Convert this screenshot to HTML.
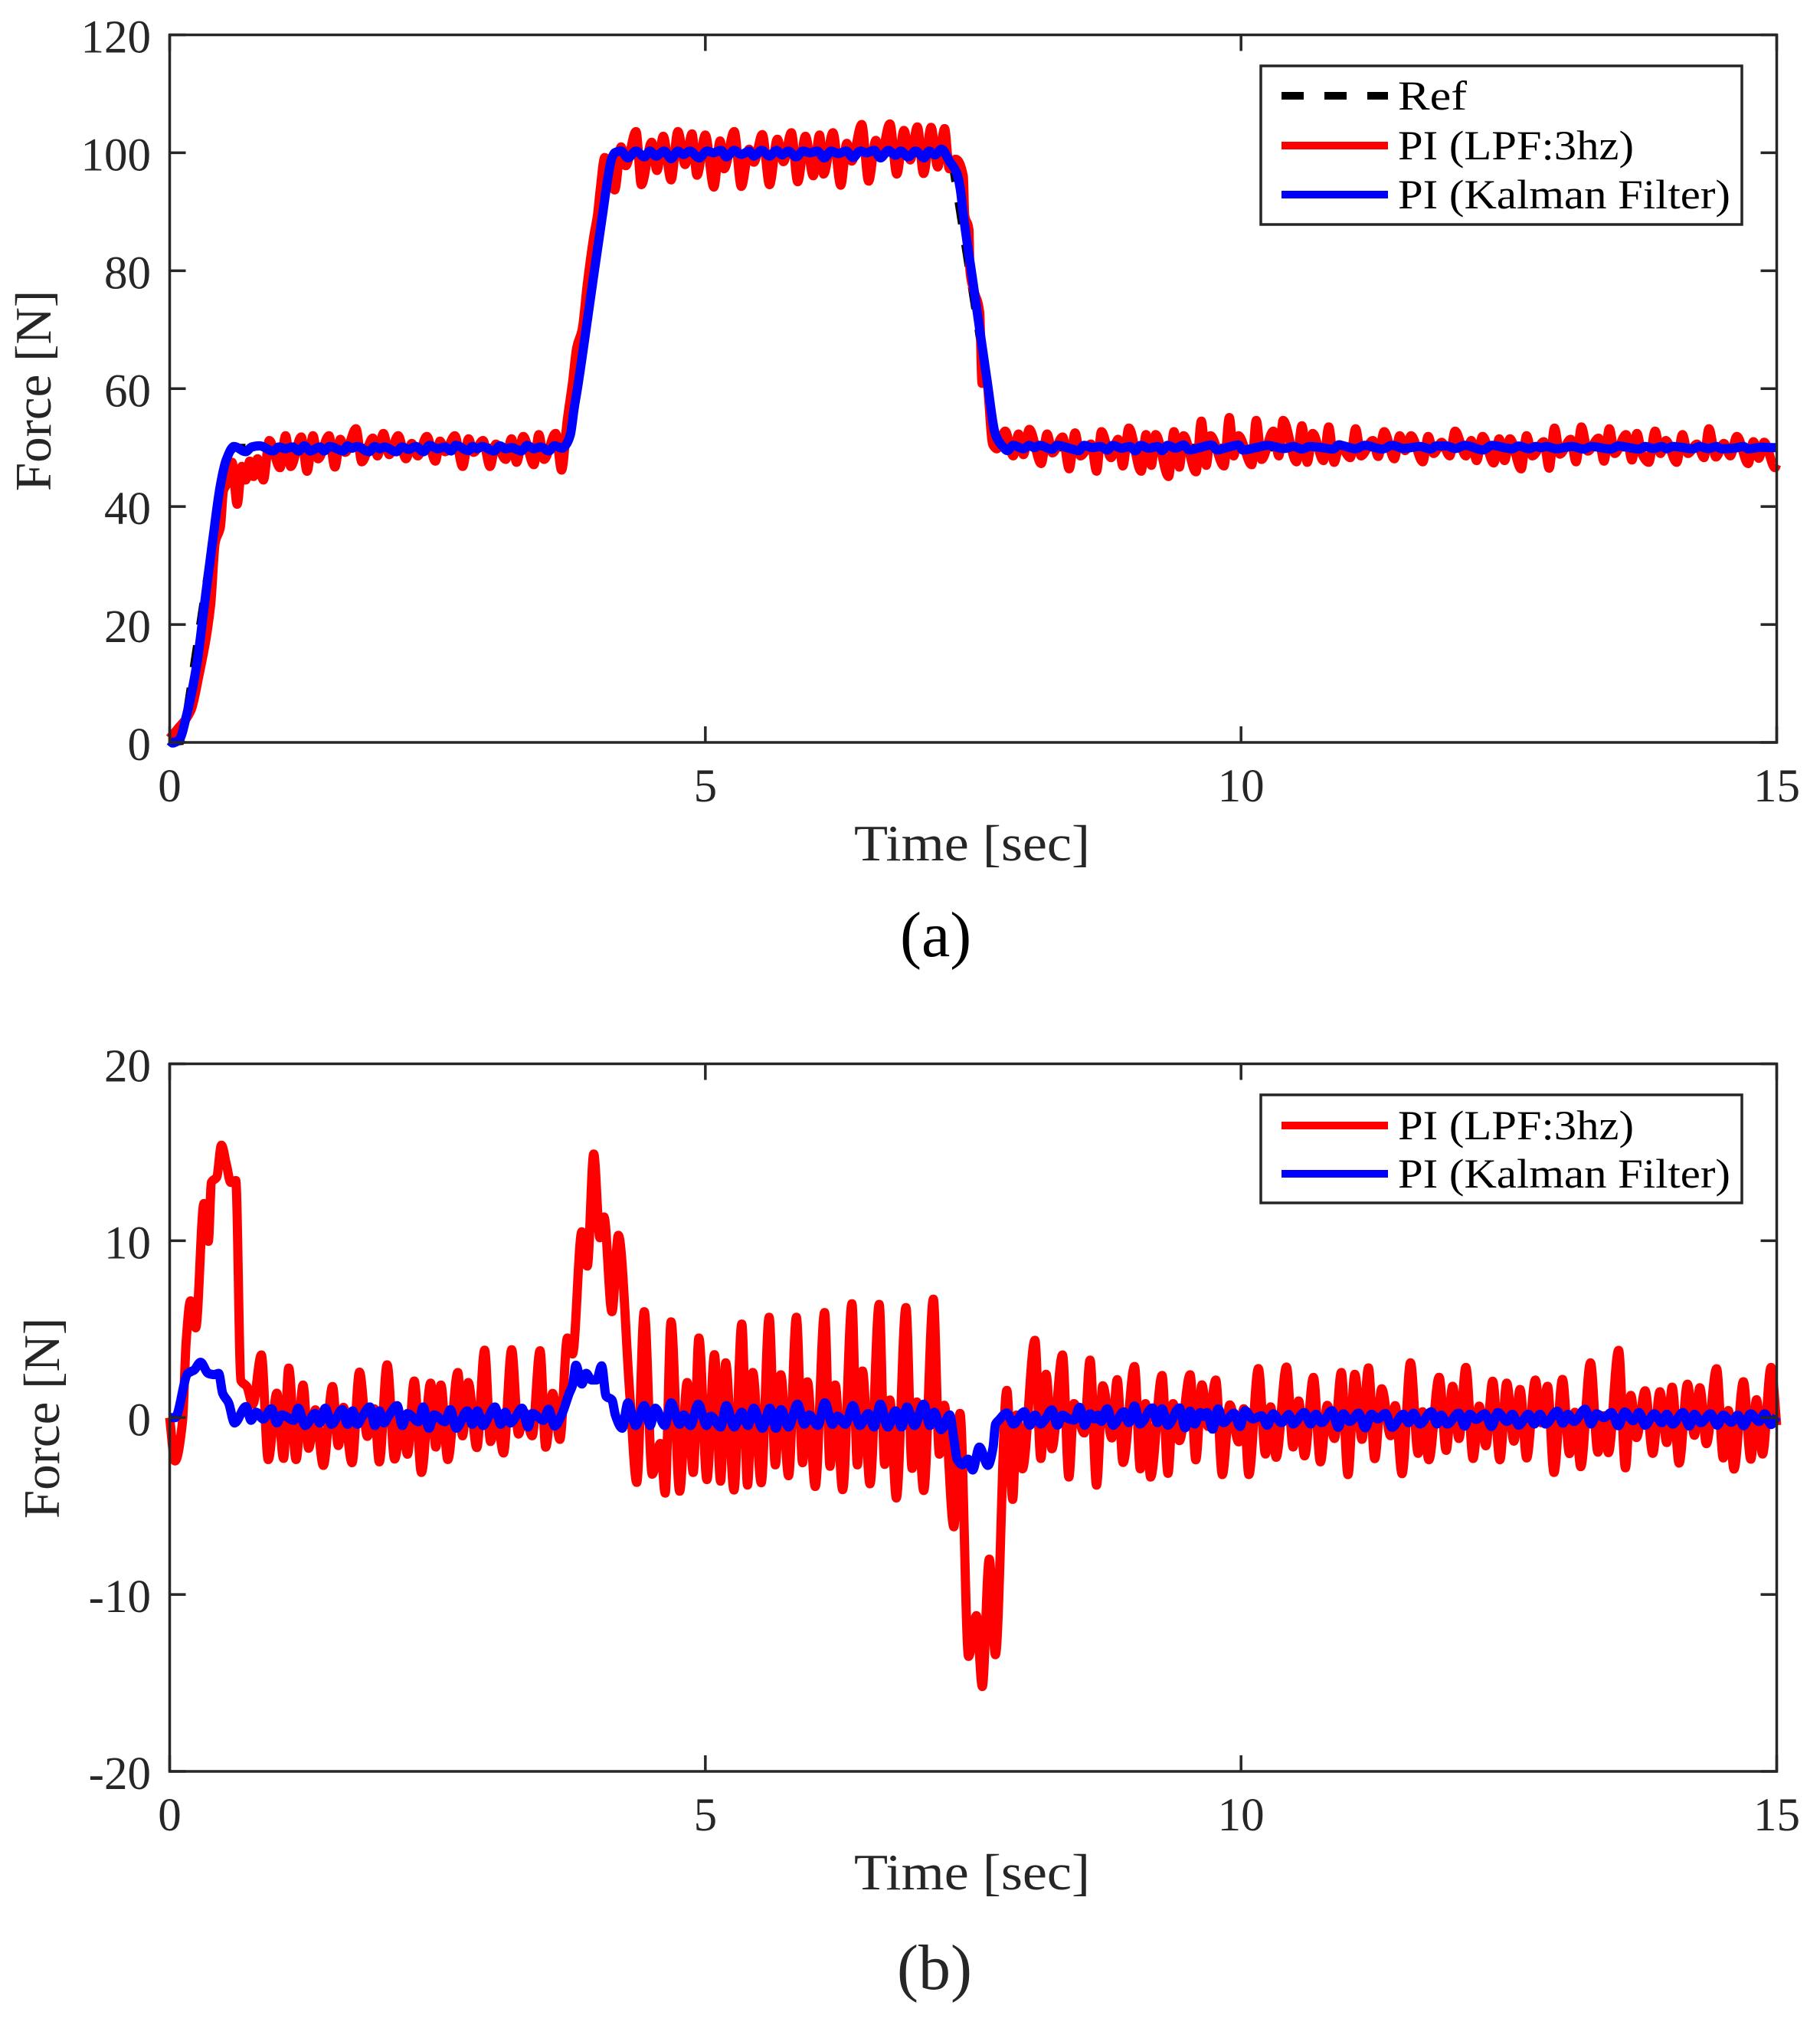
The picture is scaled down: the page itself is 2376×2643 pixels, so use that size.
<!DOCTYPE html>
<html lang="en">
<head>
<meta charset="utf-8">
<title>Force tracking comparison</title>
<style>
html,body{margin:0;padding:0;background:#fff;width:2376px;height:2643px;overflow:hidden}
svg{display:block;position:absolute;left:0;top:0}
text{font-family:"Liberation Serif",serif}
</style>
</head>
<body>
<svg id="figure" xmlns="http://www.w3.org/2000/svg" width="2376" height="2643" viewBox="0 0 2376 2643">
<rect x="0" y="0" width="2376" height="2643" fill="#fff"/>
<g id="panel-a"></g>
<g id="panel-b"></g>
<text x="1175" y="1248" font-size="84" fill="#000">(a)</text>
<text x="1171" y="2596" font-size="84" fill="#262626">(b)</text>
</svg>
<script>
var xTicks = [0, 5, 10, 15];
var xTickLabels = ["0", "5", "10", "15"];
var yTicksA = [0, 20, 40, 60, 80, 100, 120];
var yTickLabelsA = ["0", "20", "40", "60", "80", "100", "120"];
var yTicksB = [-20, -10, 0, 10, 20];
var yTickLabelsB = ["-20", "-10", "0", "10", "20"];

var refTimesA = [0, 0.1, 0.163, 0.49, 0.53, 0.6, 3.67, 4.1, 7.29, 7.72, 15];
var refForceA = [0, 0.2, 5.5, 45, 48.5, 50, 50, 100, 100, 50, 50];

var redTimesA = [0,0.07,0.2,0.27,0.382,0.426,0.473,0.502,0.539,0.583,0.63,0.674,0.71,0.747,0.783,0.82,0.875,0.93,1.03,1.082,1.13,1.228,1.283,1.338,1.385,1.487,1.542,1.593,1.64,1.739,1.794,1.896,1.94,1.995,2.049,2.133,2.206,2.26,2.316,2.4,2.48,2.524,2.571,2.662,2.735,2.79,2.837,2.925,2.99,3.045,3.136,3.191,3.238,3.3,3.4,3.446,3.494,3.603,3.658,3.71,3.76,3.8,3.85,3.9,3.96,3.994,4.02,4.061,4.154,4.213,4.257,4.353,4.403,4.499,4.548,4.607,4.68,4.744,4.811,4.875,4.922,5.0,5.079,5.138,5.176,5.269,5.336,5.409,5.453,5.532,5.599,5.672,5.73,5.803,5.862,5.934,6.007,6.066,6.104,6.191,6.264,6.32,6.366,6.46,6.524,6.591,6.635,6.722,6.787,6.854,6.912,6.979,7.037,7.107,7.169,7.233,7.277,7.335,7.408,7.42,7.46,7.47,7.5,7.56,7.583,7.62,7.683,7.72,7.799,7.874,7.924,7.969,8.024,8.135,8.19,8.24,8.335,8.396,8.451,8.501,8.6,8.652,8.697,8.787,8.852,8.897,8.953,9.068,9.113,9.163,9.203,9.324,9.374,9.424,9.464,9.58,9.63,9.675,9.715,9.841,9.891,9.931,9.976,10.1,10.142,10.192,10.302,10.353,10.393,10.518,10.568,10.618,10.669,10.769,10.819,10.869,10.92,11.02,11.07,11.12,11.23,11.28,11.336,11.431,11.481,11.532,11.587,11.697,11.747,11.798,11.873,11.948,11.998,12.099,12.149,12.199,12.254,12.359,12.41,12.46,12.51,12.615,12.665,12.72,12.826,12.876,12.926,12.977,13.077,13.127,13.177,13.237,13.338,13.388,13.438,13.488,13.594,13.649,13.695,13.74,13.805,13.865,13.915,13.965,14.066,14.12,14.171,14.256,14.321,14.367,14.432,14.507,14.567,14.628,14.733,14.783,14.833,14.883,14.984,15];
var redForceA = [0.7,2.2,5.5,11.1,23.2,34,36.5,42.7,44,47.5,40.4,46.8,44.5,47.7,45.1,48.1,44.5,51.2,46.6,52,46.8,51.8,46,52,48.1,52,46.7,51.4,49.2,53.2,47.6,51.6,48.6,52.4,48.8,52,48.1,50.7,48.6,51.9,47.7,51.1,49.3,52,46.8,51.5,49.2,51.2,46.8,50.6,48,51.5,47.5,51.9,47.1,52.2,48,52.4,46.2,54.5,61,67,70,78,86,89.5,94,99.2,93.7,101,97.8,103.6,94.6,101.8,97,102.8,95.4,103.6,98,103.2,96.2,103,94.2,102,97.3,103.6,94.3,100.6,98.4,103.1,94.6,102.3,98.5,103.4,95.1,102.8,96.1,103,96.4,103.4,94.5,101.6,98.6,104.8,95.2,102.1,99.2,104.9,96.4,103.8,98.8,104.4,96.5,104.3,97.6,104.1,97.3,98.9,96,89.5,87,80,77,73,60.9,62,50.5,49.8,52.8,48.6,52.3,48.8,53.1,47.3,52.3,49.1,51.8,46.4,52.5,48.6,50.6,46,52.7,48.3,51.4,46.9,53.3,46,52.2,47,52.2,45.1,52.7,46.7,52,45.9,54.5,47,52,46.9,55.1,48.6,52,47.1,54.6,48,52.8,48.6,54.6,47.6,53.7,47.5,52.4,47.8,53.5,47.5,50.5,48.3,53.2,48.6,51.2,48.5,52.7,48.1,52,49.5,52,47.6,51.9,49,50.9,48.6,52.8,48.6,51.2,47.8,51.9,47.4,51.5,47.8,51.5,46.4,52,48.6,51,46.5,53.3,48.9,51.4,47.6,53.5,49.4,51.6,47.7,53.2,49,52.2,47.9,52.4,49,47.5,52.8,49,51.2,47.5,52.2,49,50.6,48.3,53.2,48.4,50.7,48.6,51.9,47.3,51,48.2,50.9,46.6,47.2];

var blueTimesA = [0,0.028,0.09,0.163,0.254,0.327,0.4,0.473,0.528,0.6,0.71,0.765,0.838,0.966,1.02,1.08,1.148,1.203,1.258,1.312,1.403,1.44,1.495,1.622,1.659,1.7,1.75,1.86,1.914,1.958,2.005,2.115,2.17,2.232,2.297,2.37,2.425,2.498,2.571,2.626,2.67,2.79,2.826,2.87,2.917,3.027,3.082,3.136,3.191,3.282,3.337,3.399,3.465,3.538,3.593,3.665,3.7,3.74,3.775,3.81,3.9,3.96,4.04,4.096,4.125,4.154,4.213,4.277,4.353,4.432,4.481,4.54,4.616,4.68,4.744,4.797,4.855,4.942,5.015,5.074,5.147,5.196,5.269,5.336,5.409,5.453,5.526,5.599,5.663,5.716,5.774,5.847,5.911,5.978,6.045,6.11,6.174,6.241,6.314,6.378,6.445,6.504,6.576,6.635,6.708,6.775,6.824,6.892,6.962,7.043,7.087,7.145,7.204,7.277,7.35,7.38,7.408,7.5,7.633,7.708,7.78,7.819,7.874,7.969,8.024,8.07,8.12,8.235,8.285,8.385,8.486,8.536,8.61,8.687,8.752,8.802,8.887,8.963,9.013,9.063,9.138,9.224,9.264,9.314,9.39,9.464,9.515,9.615,9.725,9.775,9.866,9.976,10.016,10.142,10.242,10.403,10.493,10.568,10.644,10.75,10.86,10.91,11.07,11.155,11.32,11.41,11.52,11.67,11.77,11.82,11.92,12.0,12.09,12.26,12.34,12.53,12.59,12.69,12.75,12.8,12.85,12.94,13.09,13.2,13.27,13.45,13.52,13.72,13.77,13.85,13.93,13.97,14.03,14.22,14.28,14.36,14.44,14.48,14.6,14.69,14.73,14.86,14.97,15];
var blueForceA = [0.3,-0.1,0.5,5,13.3,23.7,34,43.6,47.9,50.2,49.3,50.1,50.3,49.43,50.1,49.8,50.1,49.43,50.3,49.43,50.1,49.43,50.2,49.43,50.3,49.9,50.2,49.3,50.2,49.8,50.1,49.3,50.1,49.7,50.2,49.3,50.38,49.8,50.1,49.43,50.38,49.5,50.2,49.8,50.2,49.43,50.3,49.8,50,49.43,50.38,49.8,50.1,49.43,50.3,49.9,50.5,52.2,56.6,60.5,71.8,79.5,89.5,96.4,99,100,100.3,99.13,100.3,99.3,100.3,99.44,100.3,99,100.3,99.7,100.3,99.13,100.3,100,100.4,99.3,100.4,99.7,100.3,99.44,100.4,99.44,100.4,99.65,100.3,99.3,100.3,100,100.3,99.13,100.3,99.87,100.3,99.2,100.3,100,100.4,99.13,100.4,99.57,100.3,99.3,100.3,99.13,100.3,99.65,100.6,98.6,96.4,93.8,89.5,77.8,60.9,52.2,50.1,49.5,50.38,49.8,50.38,50,50.38,49.7,50.38,49.95,49.5,50.38,50,50.2,49.6,50.38,49.9,50.2,49.45,50.38,49.9,50.2,49.5,50.38,49.9,50.45,49.6,50,50.45,49.6,50,50.45,49.6,50,50.38,49.85,50.2,49.75,50.2,50,49.75,50.45,49.8,50.38,49.75,50.38,49.85,50.2,49.75,50.28,50.28,49.85,50.38,49.6,50.38,49.8,50.28,49.8,50.2,50,50.2,49.8,50.2,49.75,50.2,49.75,50.28,49.75,50.2,49.85,50.2,49.8,50.2,49.8,50.2,49.85,50.2,49.8,49.9,50.2,49.8,50.05,50,50];

var redTimesB = [0,0.05,0.12,0.155,0.195,0.243,0.32,0.361,0.39,0.44,0.483,0.53,0.57,0.617,0.665,0.72,0.776,0.856,0.92,1.0,1.063,1.111,1.18,1.245,1.297,1.36,1.434,1.52,1.574,1.622,1.702,1.772,1.845,1.91,1.957,2.03,2.1,2.165,2.22,2.283,2.35,2.436,2.484,2.532,2.596,2.69,2.733,2.787,2.867,2.94,2.995,3.05,3.116,3.192,3.256,3.31,3.384,3.457,3.51,3.575,3.642,3.713,3.76,3.847,3.898,3.958,4.016,4.054,4.128,4.188,4.297,4.36,4.43,4.504,4.58,4.625,4.68,4.76,4.83,4.887,4.94,5.015,5.085,5.142,5.19,5.267,5.34,5.394,5.442,5.522,5.595,5.653,5.704,5.777,5.85,5.908,5.953,6.026,6.113,6.164,6.212,6.282,6.368,6.419,6.467,6.537,6.623,6.674,6.722,6.783,6.872,6.93,6.974,7.038,7.128,7.185,7.23,7.319,7.377,7.457,7.53,7.585,7.65,7.707,7.814,7.869,7.905,7.96,8.076,8.131,8.181,8.234,8.334,8.393,8.441,8.536,8.591,8.651,8.71,8.794,8.844,8.899,9.006,9.06,9.108,9.156,9.263,9.318,9.366,9.425,9.525,9.578,9.635,9.692,9.764,9.826,9.895,9.978,10.026,10.073,10.162,10.228,10.276,10.328,10.424,10.486,10.538,10.593,10.676,10.741,10.805,10.872,10.936,10.998,11.062,11.129,11.189,11.248,11.313,11.396,11.439,11.503,11.582,11.653,11.694,11.753,11.849,11.915,11.975,12.034,12.099,12.166,12.223,12.285,12.349,12.416,12.48,12.547,12.604,12.666,12.747,12.802,12.861,12.921,13.0,13.066,13.116,13.171,13.262,13.331,13.381,13.429,13.524,13.588,13.638,13.691,13.772,13.843,13.91,13.974,14.024,14.089,14.167,14.232,14.282,14.344,14.439,14.501,14.549,14.601,14.689,14.758,14.811,14.868,14.947,15];
var redForceB = [0,-2.45,-0.2,4.4,6.6,5.08,12.1,9.97,13.3,13.6,15.4,14.3,13.3,13.4,2.1,1.76,0.76,3.54,-2.37,1.38,-2.3,2.8,-2.37,1.84,-1.73,0.44,-2.7,1.76,-1.58,0.58,-2.55,2.57,-1.06,0.5,-2.5,2.98,-2.34,0,-2.07,2.07,-3.1,1.95,-1.66,1.84,-2.37,2.55,-1.03,1.98,-1.69,3.81,-1.35,0.3,-2,3.84,-0.93,0.3,-1.03,3.78,-1.67,1.37,-1.23,4.5,3.6,10.5,8.57,14.9,10.17,11.34,5.99,10.3,1.12,-3.66,5.99,-3.2,-1.46,-4.27,5.41,-4.16,1.98,-3.1,4.5,-3.5,3.56,-3.59,3.1,-4.09,5.29,-3.81,2.55,-3.68,5.67,-2.67,2.42,-3.28,5.67,-2.55,2.02,-3.89,5.94,-2.75,1.84,-4.07,6.44,-2.67,2.63,-3.74,6.4,-2.64,1,-4.54,6.22,-2.87,0.88,-4.12,6.7,-2.07,0.7,-6.17,0.24,-13.5,-11.2,-15.2,-8,-13.4,1.54,-4.62,0.14,-2.89,4.37,-2.31,2.45,-1.76,3.54,-3.36,0.79,-0.87,3.25,-3.82,1.8,-1.15,2.14,-2.53,2.89,-2.89,0.79,-3.36,2.38,-3.15,0.79,-1.3,2.42,-2.38,1.85,-0.5,2.12,-3.22,0.72,-1.37,0.5,-3.22,2.77,-2.06,0.61,-2.24,2.86,-1.66,0.94,-2.16,2.27,-2.5,0.69,-1.18,2.55,-3.22,2.45,-1.23,2.81,-2.32,1.63,-1.02,0.68,-3.17,3.1,-2.02,0.33,-2.38,2.28,-1.85,1.77,-1.18,2.84,-2.31,0.65,-1.59,2.06,-2.38,1.95,-1.33,1.59,-2.28,2.12,-0.29,1.77,-3.1,2.16,-2.03,0.3,-2.77,3.1,-1.95,0.1,-1.98,3.8,-2.84,1.26,-1.13,1.52,-2.02,1.46,-1.41,1.72,-2.57,1.89,-1,1.69,-1.47,2.76,-2.28,0.4,-2.91,2.03,-2.35,1.01,-2.06,2.84,-0.43];

var blueTimesB = [0,0.05,0.17,0.23,0.288,0.36,0.416,0.457,0.495,0.55,0.606,0.712,0.76,0.808,0.872,0.95,1.0,1.047,1.16,1.2,1.265,1.357,1.4,1.453,1.51,1.612,1.66,1.708,1.75,1.8,1.868,1.916,1.957,2.0,2.043,2.123,2.171,2.219,2.324,2.366,2.42,2.468,2.57,2.62,2.675,2.777,2.825,2.873,2.924,2.98,3.036,3.09,3.132,3.18,3.234,3.288,3.346,3.384,3.49,3.537,3.594,3.658,3.729,3.76,3.792,3.847,3.888,3.936,3.984,4.032,4.073,4.128,4.16,4.224,4.278,4.35,4.43,4.485,4.533,4.622,4.68,4.76,4.798,4.861,4.935,5.011,5.053,5.142,5.196,5.27,5.34,5.397,5.452,5.532,5.602,5.659,5.707,5.777,5.86,5.924,5.969,6.049,6.116,6.186,6.234,6.307,6.377,6.441,6.521,6.575,6.633,6.703,6.776,6.831,6.882,6.952,7.038,7.096,7.137,7.2,7.281,7.319,7.35,7.399,7.453,7.495,7.558,7.638,7.686,7.708,7.74,7.814,7.876,7.976,8.029,8.076,8.131,8.167,8.234,8.286,8.334,8.393,8.441,8.493,8.541,8.591,8.632,8.667,8.696,8.751,8.806,8.906,8.953,9.006,9.056,9.173,9.22,9.263,9.316,9.425,9.478,9.525,9.568,9.62,9.652,9.683,9.735,9.787,9.835,9.935,9.99,10.038,10.109,10.193,10.245,10.3,10.378,10.447,10.486,10.59,10.65,10.698,10.752,10.848,10.907,10.955,11.015,11.098,11.158,11.217,11.277,11.348,11.408,11.515,11.563,11.61,11.67,11.777,11.83,11.868,11.925,12.032,12.087,12.135,12.194,12.277,12.337,12.397,12.485,12.533,12.592,12.683,12.738,12.79,12.842,12.952,13.004,13.052,13.107,13.212,13.266,13.319,13.386,13.457,13.522,13.581,13.66,13.715,13.772,13.858,13.927,13.974,14.029,14.125,14.184,14.232,14.291,14.382,14.446,14.501,14.577,14.637,14.692,14.756,14.835,14.887,14.947,15];
var blueForceB = [0,0,2.5,2.7,3.13,2.5,2.43,2.5,1.37,0.84,-0.3,0.62,-0.15,0.3,-0.08,0.5,-0.3,0.15,-0.15,0.53,-0.45,0.23,-0.3,0.53,-0.38,0.45,-0.38,0.38,-0.38,0.08,0.6,-0.45,0.38,-0.3,0.08,0.68,-0.45,0.23,-0.23,0.6,-0.6,0.15,-0.23,0.45,-0.6,0.38,-0.38,0.38,-0.45,0.08,0.6,-0.38,0.3,-0.3,0.08,0.53,-0.53,0.23,-0.15,0.48,-0.48,0.15,1.37,1.82,2.96,1.9,2.5,2.13,2.13,2.92,1.22,1,0.15,-0.6,0.84,-0.45,0.68,-0.45,0.53,-0.45,0.84,-0.38,0.15,-0.45,0.76,-0.45,0.08,-0.53,0.68,-0.53,0.3,-0.45,0.53,-0.6,0.53,-0.6,0.45,-0.53,0.76,-0.38,0.15,-0.45,0.84,-0.38,0.08,-0.38,0.68,-0.45,0.23,-0.53,0.76,-0.53,0.38,-0.53,0.6,-0.45,0.76,-0.45,0.3,-0.68,0.15,-1.2,-2.35,-2.66,-2.35,-2.96,-1.67,-2.7,-1.67,-0.38,-0.14,0.26,-0.36,0.33,-0.43,0.14,-0.36,-0.14,0.43,-0.43,0.14,-0.07,-0.14,0.58,-0.43,0.22,-0.07,0.14,-0.22,0.5,-0.43,0.33,-0.29,0.65,-0.36,0.55,-0.29,0.5,-0.43,0.55,-0.58,0.36,-0.36,0.29,0.07,0.29,-0.65,0.5,-0.29,0.25,-0.5,0.39,-0.07,0.1,-0.43,0.22,-0.29,0.17,-0.36,0.29,-0.36,0.19,-0.29,0.39,-0.55,0.22,-0.22,0.25,-0.58,0.19,-0.07,0.23,-0.55,0.19,-0.29,0.25,-0.36,0.33,-0.36,0.14,-0.36,0.25,-0.48,0.19,-0.1,0.22,-0.5,0.29,-0.22,0.19,-0.43,0.19,-0.36,0.19,-0.36,0.36,-0.32,0.19,-0.22,0.48,-0.36,0.22,0,0.29,-0.46,0.32,-0.17,0.29,-0.43,0.22,-0.29,0.19,-0.36,0.29,-0.48,0.19,-0.29,0.22,-0.43,0.14,-0.26,0.14,-0.46,0.22,-0.22,0.22,-0.39,0.07];

var xLeft = 221.5;
var xRight = 2319.5;
var xMax = 15;
var axisColor = "#262626";
var svgNS = "http://www.w3.org/2000/svg";

function xScale(t) {
  return xLeft + (t / xMax) * (xRight - xLeft);
}
function makeYScale(top, bottom, vMin, vMax) {
  return function (v) {
    return bottom - ((v - vMin) / (vMax - vMin)) * (bottom - top);
  };
}
function create(tag, parent) {
  var el = document.createElementNS(svgNS, tag);
  parent.appendChild(el);
  return el;
}
function monotonePath(xs, ys) {
  var n = xs.length, d = [], m = [], i;
  for (i = 0; i < n - 1; i++) {
    d[i] = (ys[i + 1] - ys[i]) / (xs[i + 1] - xs[i]);
  }
  m[0] = d[0];
  m[n - 1] = d[n - 2];
  for (i = 1; i < n - 1; i++) {
    if (d[i - 1] * d[i] <= 0) {
      m[i] = 0;
    } else {
      var h0 = xs[i] - xs[i - 1], h1 = xs[i + 1] - xs[i];
      m[i] = (3 * (h0 + h1)) / ((2 * h1 + h0) / d[i - 1] + (h1 + 2 * h0) / d[i]);
    }
  }
  var p = "M" + xs[0].toFixed(1) + " " + ys[0].toFixed(1);
  for (i = 0; i < n - 1; i++) {
    var h = (xs[i + 1] - xs[i]) / 3;
    p += "C" + (xs[i] + h).toFixed(1) + " " + (ys[i] + m[i] * h).toFixed(1) + " " +
         (xs[i + 1] - h).toFixed(1) + " " + (ys[i + 1] - m[i + 1] * h).toFixed(1) + " " +
         xs[i + 1].toFixed(1) + " " + ys[i + 1].toFixed(1);
  }
  return p;
}
function drawSmoothSeries(parent, times, values, yScale, color, seriesName) {
  var path = create("path", parent);
  
  
  path.setAttribute("d", monotonePath(times.map(xScale), values.map(yScale)));
  path.setAttribute("fill", "none");
  path.setAttribute("stroke", color);
  path.setAttribute("stroke-width", "12");
  path.setAttribute("stroke-linejoin", "round");
  return path;
}
function drawRefSeries(parent, times, values, yScale) {
  var pts = times.map(function (t, i) {
    return xScale(t).toFixed(1) + "," + yScale(values[i]).toFixed(1);
  }).join(" ");
  var line = create("polyline", parent);
  
  
  line.setAttribute("points", pts);
  line.setAttribute("fill", "none");
  line.setAttribute("stroke", "#000");
  line.setAttribute("stroke-width", "10");
  line.setAttribute("stroke-dasharray", "29 27");
}
function drawAxes(parent, cfg) {
  var yScale = cfg.yScale;
  var frame = create("rect", parent);
  
  
  frame.setAttribute("x", xLeft);
  frame.setAttribute("y", cfg.top);
  frame.setAttribute("width", xRight - xLeft);
  frame.setAttribute("height", cfg.bottom - cfg.top);
  frame.setAttribute("fill", "none");
  frame.setAttribute("stroke", axisColor);
  frame.setAttribute("stroke-width", "3.5");

  xTicks.forEach(function (tick, i) {
    var x = xScale(tick);
    var bottomTick = create("line", parent);
    
    
    bottomTick.setAttribute("x1", x);
    bottomTick.setAttribute("x2", x);
    bottomTick.setAttribute("y1", cfg.bottom);
    bottomTick.setAttribute("y2", cfg.bottom - 21);
    bottomTick.setAttribute("stroke", axisColor);
    bottomTick.setAttribute("stroke-width", "3.5");
    var topTick = create("line", parent);
    
    
    topTick.setAttribute("x1", x);
    topTick.setAttribute("x2", x);
    topTick.setAttribute("y1", cfg.top);
    topTick.setAttribute("y2", cfg.top + 21);
    topTick.setAttribute("stroke", axisColor);
    topTick.setAttribute("stroke-width", "3.5");
    var label = create("text", parent);
    
    
    label.setAttribute("x", x);
    label.setAttribute("y", cfg.bottom + 77);
    label.setAttribute("text-anchor", "middle");
    label.setAttribute("font-size", "61");
    label.setAttribute("fill", axisColor);
    label.textContent = xTickLabels[i];
  });

  cfg.yTicks.forEach(function (tick, i) {
    var y = yScale(tick);
    var leftTick = create("line", parent);
    
    
    leftTick.setAttribute("x1", xLeft);
    leftTick.setAttribute("x2", xLeft + 21);
    leftTick.setAttribute("y1", y);
    leftTick.setAttribute("y2", y);
    leftTick.setAttribute("stroke", axisColor);
    leftTick.setAttribute("stroke-width", "3.5");
    var rightTick = create("line", parent);
    
    
    rightTick.setAttribute("x1", xRight);
    rightTick.setAttribute("x2", xRight - 21);
    rightTick.setAttribute("y1", y);
    rightTick.setAttribute("y2", y);
    rightTick.setAttribute("stroke", axisColor);
    rightTick.setAttribute("stroke-width", "3.5");
    var label = create("text", parent);
    
    
    label.setAttribute("x", 197);
    label.setAttribute("y", y + 23);
    label.setAttribute("text-anchor", "end");
    label.setAttribute("font-size", "61");
    label.setAttribute("fill", axisColor);
    label.textContent = cfg.yTickLabels[i];
  });

  var xTitle = create("text", parent);
  
  
  xTitle.setAttribute("x", 1115);
  xTitle.setAttribute("y", cfg.bottom + 154);
  xTitle.setAttribute("font-size", "67");
  xTitle.setAttribute("textLength", "308");
  xTitle.setAttribute("lengthAdjust", "spacingAndGlyphs");
  xTitle.setAttribute("fill", axisColor);
  xTitle.textContent = "Time [sec]";

  var yTitle = create("text", parent);
  
  
  yTitle.setAttribute("transform", "translate(" + cfg.titleX + "," + cfg.titleY + ") rotate(-90)");
  yTitle.setAttribute("text-anchor", "middle");
  yTitle.setAttribute("font-size", "67");
  yTitle.setAttribute("fill", axisColor);
  yTitle.textContent = "Force [N]";
}
function drawLegendBox(parent, top, height) {
  var box = create("rect", parent);
  
  
  box.setAttribute("x", 1646);
  box.setAttribute("y", top);
  box.setAttribute("width", 628);
  box.setAttribute("height", height);
  box.setAttribute("fill", "#fff");
  box.setAttribute("stroke", axisColor);
  box.setAttribute("stroke-width", "3.5");
}
function drawLegendRow(parent, y, color, dashed, label, textWidth) {
  var sample = create("line", parent);
  
  
  sample.setAttribute("x1", 1673);
  sample.setAttribute("x2", 1812);
  sample.setAttribute("y1", y);
  sample.setAttribute("y2", y);
  sample.setAttribute("stroke", color);
  sample.setAttribute("stroke-width", "10");
  if (dashed) {
    sample.setAttribute("stroke-dasharray", "29 27");
  }
  var text = create("text", parent);
  
  
  text.setAttribute("x", 1825);
  text.setAttribute("y", y + 18);
  text.setAttribute("font-size", "54");
  text.setAttribute("fill", "#000");
  text.setAttribute("textLength", textWidth);
  text.setAttribute("lengthAdjust", "spacingAndGlyphs");
  text.textContent = label;
}

var yScaleA = makeYScale(45.5, 969, 0, 120);
var yScaleB = makeYScale(1388.5, 2312, -20, 20);
var panelA = document.getElementById("panel-a");
var panelB = document.getElementById("panel-b");

drawRefSeries(panelA, refTimesA, refForceA, yScaleA);
drawSmoothSeries(panelA, redTimesA, redForceA, yScaleA, "#ff0000", "pi-lpf-series");
drawSmoothSeries(panelA, blueTimesA, blueForceA, yScaleA, "#0000ff", "pi-kalman-series");
drawAxes(panelA, {top: 45.5, bottom: 969, yScale: yScaleA, yTicks: yTicksA, yTickLabels: yTickLabelsA, titleX: 66, titleY: 510});
drawLegendBox(panelA, 86, 207);
drawLegendRow(panelA, 125, "#000", true, "Ref", "90");
drawLegendRow(panelA, 190, "#ff0000", false, "PI (LPF:3hz)", "308");
drawLegendRow(panelA, 254, "#0000ff", false, "PI (Kalman Filter)", "434");

drawSmoothSeries(panelB, redTimesB, redForceB, yScaleB, "#ff0000", "pi-lpf-error-series");
drawSmoothSeries(panelB, blueTimesB, blueForceB, yScaleB, "#0000ff", "pi-kalman-error-series");
drawAxes(panelB, {top: 1388.5, bottom: 2312, yScale: yScaleB, yTicks: yTicksB, yTickLabels: yTickLabelsB, titleX: 77, titleY: 1851});
drawLegendBox(panelB, 1429, 141);
drawLegendRow(panelB, 1469, "#ff0000", false, "PI (LPF:3hz)", "308");
drawLegendRow(panelB, 1532, "#0000ff", false, "PI (Kalman Filter)", "434");
</script>
</body>
</html>
